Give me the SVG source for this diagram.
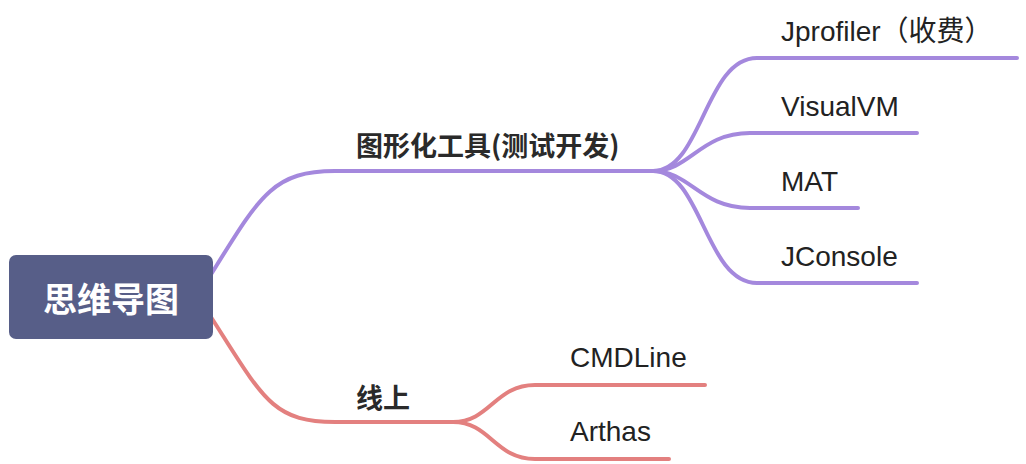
<svg xmlns="http://www.w3.org/2000/svg" width="1026" height="464" viewBox="0 0 1026 464">
<style>
.p{fill:none;stroke:#a488dd;stroke-width:4;stroke-linecap:round}
.r{fill:none;stroke:#e3807f;stroke-width:4;stroke-linecap:round}
.lbl{font-family:"Liberation Sans","Noto Sans CJK SC",sans-serif;font-size:28px;fill:#222}
.sub{font-family:"Noto Sans CJK SC",sans-serif;font-size:27px;font-weight:bold;fill:#2a2a2a}
.root{font-family:"Noto Sans CJK SC",sans-serif;font-size:34px;font-weight:bold;fill:#fff}
</style>
<rect width="1026" height="464" fill="#fff"/>
<g id="connectors">
<path class="p" d="M200 292 C258 200 268 171 335 171 L653 171"/>
<path class="p" d="M653 171 C702 171 705 58 757 58 L1017 58"/>
<path class="p" d="M653 171 C690 171 700 133 750 133 L917 133"/>
<path class="p" d="M653 171 C690 171 700 208 750 208 L858 208"/>
<path class="p" d="M653 171 C702 171 705 283 757 283 L917 283"/>
<path class="r" d="M200 300 C262 395 268 422 335 422 L453 422"/>
<path class="r" d="M453 422 C490 422 495 385 535 385 L705 385"/>
<path class="r" d="M453 422 C490 422 495 459 535 459 L669 459"/>
</g>
<g id="root">
<rect x="9" y="255" width="204" height="84" rx="7" fill="#575e88"/>
<text class="root" x="111" y="297" text-anchor="middle" dominant-baseline="central">思维导图</text>
</g>
<g id="tools"><text class="sub" x="356" y="144" dominant-baseline="central">图形化工具(测试开发)</text></g>
<g id="jprofiler"><text class="lbl" x="781" y="41">Jprofiler（收费）</text></g>
<g id="visualvm"><text class="lbl" x="781" y="116">VisualVM</text></g>
<g id="mat"><text class="lbl" x="781" y="191">MAT</text></g>
<g id="jconsole"><text class="lbl" x="781" y="266">JConsole</text></g>
<g id="online"><text class="sub" x="356" y="396" dominant-baseline="central">线上</text></g>
<g id="cmdline"><text class="lbl" x="570" y="367">CMDLine</text></g>
<g id="arthas"><text class="lbl" x="570" y="441">Arthas</text></g>
</svg>
